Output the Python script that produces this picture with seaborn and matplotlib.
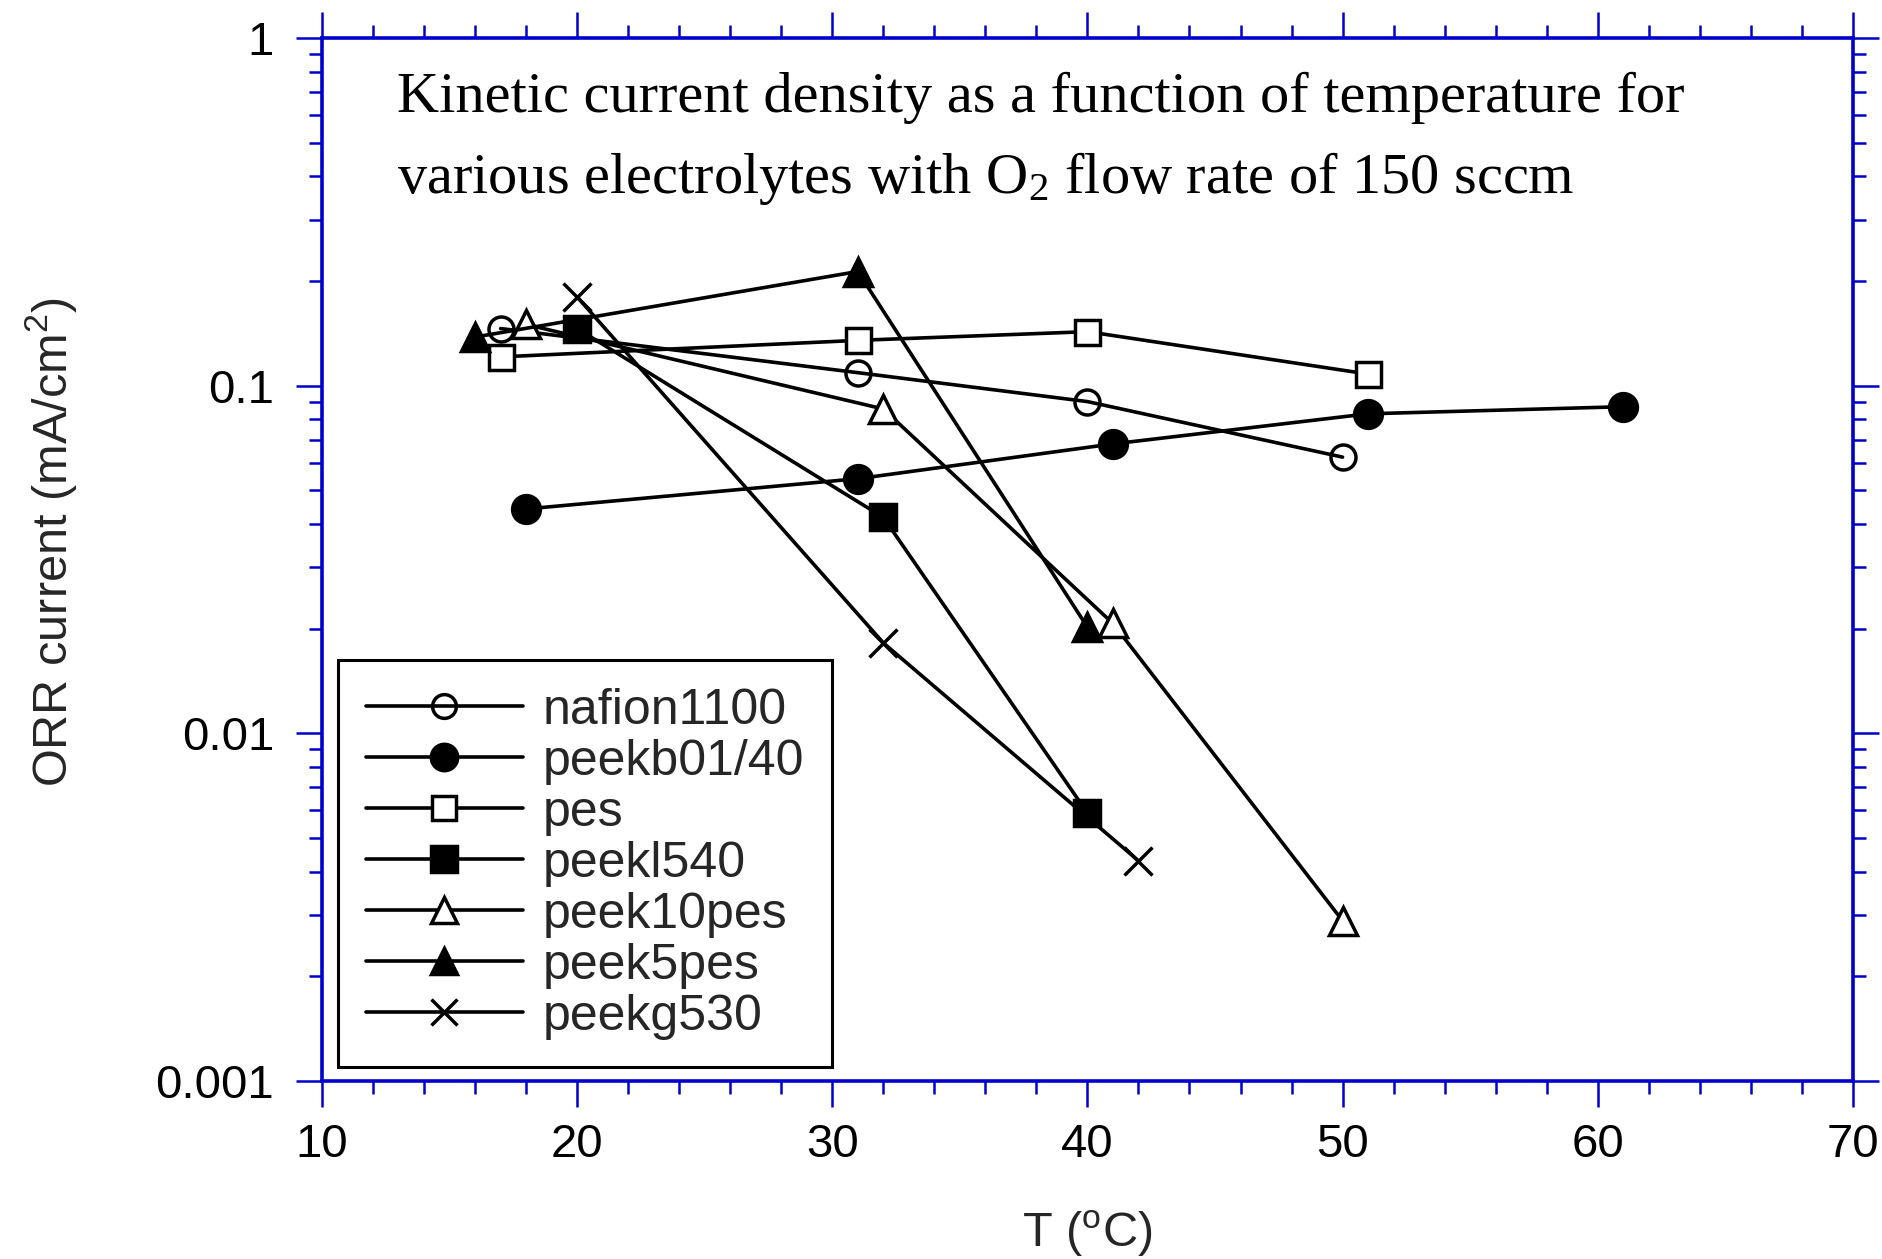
import numpy as np
import pandas as pd
import matplotlib
matplotlib.use("Agg")
import matplotlib.pyplot as plt
from matplotlib.ticker import FixedLocator, LogLocator, MultipleLocator, FuncFormatter, NullFormatter
import seaborn as sns

# ---- data ----
series_names = ["nafion1100", "peekb01/40", "pes", "peekl540", "peek10pes", "peek5pes", "peekg530"]

nafion1100_T = [17, 31, 40, 50]
nafion1100_I = [0.146, 0.109, 0.090, 0.0623]

peekb0140_T = [18, 31, 41, 51, 61]
peekb0140_I = [0.0442, 0.054, 0.068, 0.083, 0.087]

pes_T = [17, 31, 40, 51]
pes_I = [0.121, 0.135, 0.143, 0.108]

peekl540_T = [20, 32, 40]
peekl540_I = [0.146, 0.0418, 0.0059]

peek10pes_T = [18, 32, 41, 50]
peek10pes_I = [0.150, 0.0857, 0.0207, 0.00289]

peek5pes_T = [16, 31, 40]
peek5pes_I = [0.138, 0.213, 0.0202]

peekg530_T = [20, 32, 42]
peekg530_I = [0.180, 0.0182, 0.0043]

x_ticks = [10, 20, 30, 40, 50, 60, 70]
y_ticks = [0.001, 0.01, 0.1, 1]
y_tick_labels = ["0.001", "0.01", "0.1", "1"]

title_line1 = "Kinetic current density as a function of temperature for"
title_line2 = r"various electrolytes with $\mathregular{O_2}$ flow rate of 150 sccm"

all_T = [nafion1100_T, peekb0140_T, pes_T, peekl540_T, peek10pes_T, peek5pes_T, peekg530_T]
all_I = [nafion1100_I, peekb0140_I, pes_I, peekl540_I, peek10pes_I, peek5pes_I, peekg530_I]

df = pd.concat([pd.DataFrame({"T": t, "I": i, "series": n})
                for n, t, i in zip(series_names, all_T, all_I)], ignore_index=True)

# ---- styling ----
sns.set_theme(style="white")
plt.rcParams['font.family'] = ['Liberation Sans', 'DejaVu Sans']
plt.rcParams['mathtext.default'] = 'regular'

blue = '#0000CC'

fig = plt.figure(figsize=(18.83, 12.59), dpi=100)
ax = fig.add_axes([0.171, 0.1414, 0.984 - 0.171, 0.9698 - 0.1414])

styles = {
    "nafion1100": dict(marker='o', mfc='none', ms=18),
    "peekb01/40": dict(marker='o', mfc='black', ms=20),
    "pes": dict(marker='s', mfc='white', ms=18),
    "peekl540": dict(marker='s', mfc='black', ms=19),
    "peek10pes": dict(marker='^', mfc='white', ms=20),
    "peek5pes": dict(marker='^', mfc='black', ms=20),
    "peekg530": dict(marker='x', mfc='black', ms=20),
}

for name in series_names:
    sub = df[df["series"] == name]
    st = styles[name]
    sns.lineplot(data=sub, x="T", y="I", ax=ax, color='black', lw=2.6,
                 marker=st['marker'], markerfacecolor=st['mfc'],
                 markeredgecolor='black', markeredgewidth=2.5,
                 markersize=st['ms'], label=name, sort=False,
                 estimator=None, errorbar=None)

ax.set_yscale('log')
ax.set_xlim(10, 70)
ax.set_ylim(0.001, 1)

ax.xaxis.set_major_locator(FixedLocator(x_ticks))
ax.xaxis.set_minor_locator(MultipleLocator(2))
ax.yaxis.set_major_locator(FixedLocator(y_ticks))
ax.yaxis.set_major_formatter(FuncFormatter(lambda v, p: y_tick_labels[y_ticks.index(min(y_ticks, key=lambda t: abs(np.log10(t) - np.log10(v))))]))
ax.yaxis.set_minor_locator(LogLocator(base=10, subs=np.arange(2, 10)))
ax.yaxis.set_minor_formatter(NullFormatter())

for sp in ax.spines.values():
    sp.set_visible(True)
    sp.set_color(blue)
    sp.set_linewidth(2.6)

ax.tick_params(which='both', direction='out', color=blue, top=True, right=True,
               bottom=True, left=True, labelcolor='black')
ax.tick_params(which='major', length=18.5, width=1.8, labelsize=34)
ax.tick_params(which='minor', length=9.5, width=1.8)
ax.tick_params(axis='y', which='major', pad=16)
ax.tick_params(axis='x', which='major', pad=12)
ax.tick_params(labeltop=False, labelright=False)

ax.set_xlabel(r"T ($^{o}$C)", fontsize=35, labelpad=30)
ax.set_ylabel(r"ORR current (mA/cm$^{2}$)", fontsize=35, labelpad=50)
ax.yaxis.set_label_coords(-0.159, 0.517)

ax.text(0.049, 0.929, title_line1, transform=ax.transAxes, fontsize=42,
        family=['Liberation Serif', 'DejaVu Serif'], va='baseline', ha='left', color='black')
ax.text(0.049, 0.8514, title_line2, transform=ax.transAxes, fontsize=42,
        family=['Liberation Serif', 'DejaVu Serif'], va='baseline', ha='left', color='black')

leg = ax.legend(loc='lower left', bbox_to_anchor=(0.0105, 0.0134), borderaxespad=0,
                fontsize=36, frameon=True, fancybox=False, shadow=False, framealpha=1,
                handlelength=3.15, handletextpad=0.4, labelspacing=0.1, borderpad=0.55,
                markerscale=0.95)
leg.get_frame().set_edgecolor('black')
leg.get_frame().set_linewidth(2.2)
for line in leg.get_lines():
    line.set_linewidth(2.6)

fig.savefig("out.png", dpi=100)
